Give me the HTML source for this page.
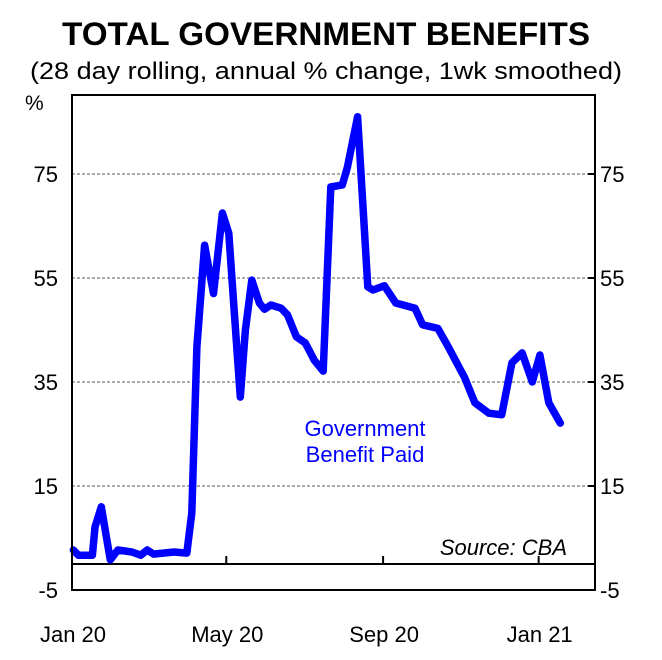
<!DOCTYPE html>
<html><head><meta charset="utf-8"><style>
html,body{margin:0;padding:0;background:#fff;}
svg{display:block;font-family:"Liberation Sans",Arial,sans-serif;}
</style></head><body>
<svg id="chart" width="662" height="660" viewBox="0 0 662 660" xmlns="http://www.w3.org/2000/svg">
<text x="326" y="45" text-anchor="middle" font-size="32" font-weight="bold" textLength="528" lengthAdjust="spacingAndGlyphs">TOTAL GOVERNMENT BENEFITS</text>
<text x="326" y="79" text-anchor="middle" font-size="24" textLength="592" lengthAdjust="spacingAndGlyphs">(28 day rolling, annual % change,  1wk smoothed)</text>
<text x="25" y="110" font-size="21">%</text>
<g id="grid"></g>
<g id="axes"></g>
<path id="series" fill="none" stroke="#0000ff" stroke-width="7.5" stroke-linejoin="round" stroke-linecap="round"/>
<rect x="72" y="95" width="523" height="495" fill="none" stroke="#000" stroke-width="2"/>
<text font-size="22" fill="#0000ff" text-anchor="middle"><tspan x="365" y="436">Government</tspan><tspan x="365" y="462">Benefit Paid</tspan></text>
<text x="567" y="555" text-anchor="end" font-size="22" font-style="italic">Source: CBA</text>
</svg>
<script>
const dayOffsets=[1,5,16,18,23,27,30,36,47,54,59,64,80,90,94,98,104,111,118,123,127,132,136,141,147,151,156,164,169,176,183,190,197,203,212,216,224,232,236,245,254,269,275,287,295,308,316,327,337,345,353,361,367,374,383];
const benefitValues=[2.7,1.7,1.7,7.1,11,5.2,0.8,2.7,2.3,1.7,2.7,1.9,2.3,2.1,9.8,41.8,61.3,52,67.5,63.6,49.5,32.1,45,54.6,50.2,49,49.8,49.2,47.9,43.7,42.5,39.2,37.1,72.5,72.9,76.3,86,53.3,52.7,53.5,50.2,49.2,46,45.3,41.8,35.8,31,29,28.7,38.7,40.6,35,40.2,31,27.1];
const yTicks=[-5,15,35,55,75];
const xTickDays=[0,121,244,366];
const xTickLabels=["Jan 20","May 20","Sep 20","Jan 21"];
const X0=72,PXD=1.275,Y0=564,PXU=5.2;
const xs=d=>X0+d*PXD, ys=v=>Y0-v*PXU;
const NS="http://www.w3.org/2000/svg";
const grid=document.getElementById('grid'), axes=document.getElementById('axes');
function mk(tag,attrs,parent){const e=document.createElementNS(NS,tag);for(const k in attrs)e.setAttribute(k,attrs[k]);parent.appendChild(e);return e;}
yTicks.forEach(v=>{
  const y=ys(v);
  if(v>-5){const g=mk('line',{x1:72,x2:595,y1:y,y2:y,stroke:'#555','stroke-width':1,'stroke-dasharray':'3,2'},grid);
  
  
  const t=mk('line',{x1:588,x2:595,y1:y,y2:y,stroke:'#000','stroke-width':2},axes);
  
  }
  const l=mk('text',{x:58,y:y+8,'text-anchor':'end','font-size':22},axes);l.textContent=v;
  
  
  const r=mk('text',{x:600,y:y+8,'font-size':22},axes);r.textContent=v;
  
  
});
const z=mk('line',{x1:72,x2:595,y1:ys(0),y2:ys(0),stroke:'#000','stroke-width':2},axes);


xTickDays.forEach((d,i)=>{
  const x=xs(d);
  if(i>0){const t=mk('line',{x1:x,x2:x,y1:ys(0),y2:ys(0)-8,stroke:'#000','stroke-width':2},axes);
  
  }
  const l=mk('text',{x:x+1,y:642,'text-anchor':'middle','font-size':22},axes);l.textContent=xTickLabels[i];
  
  
});
document.getElementById('series').setAttribute('d',dayOffsets.map((d,i)=>(i?'L':'M')+xs(d).toFixed(1)+','+ys(benefitValues[i]).toFixed(1)).join(' '));
</script>
</body></html>
